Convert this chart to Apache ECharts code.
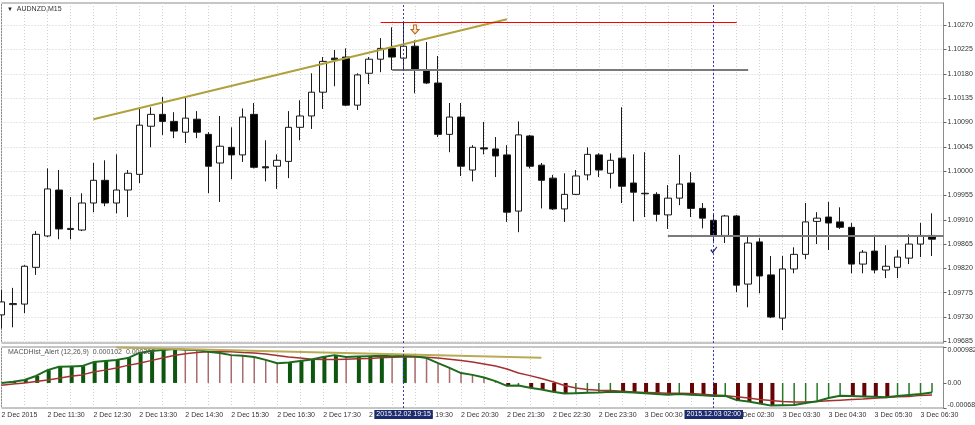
<!DOCTYPE html>
<html><head><meta charset="utf-8">
<script src="https://cdn.jsdelivr.net/npm/echarts@6/dist/echarts.min.js"></script>
<style>html,body{margin:0;padding:0;background:#fff}#c{width:975px;height:425px}</style>
</head><body><div id="c"></div>
<script>
const categories = ['2 Dec 2015','2 Dec 10:45','2 Dec 11:00','2 Dec 11:15','2 Dec 11:30','2 Dec 11:45','2 Dec 12:00','2 Dec 12:15','2 Dec 12:30','2 Dec 12:45',
'2 Dec 13:00','2 Dec 13:15','2 Dec 13:30','2 Dec 13:45','2 Dec 14:00','2 Dec 14:15','2 Dec 14:30','2 Dec 14:45','2 Dec 15:00','2 Dec 15:15',
'2 Dec 15:30','2 Dec 15:45','2 Dec 16:00','2 Dec 16:15','2 Dec 16:30','2 Dec 16:45','2 Dec 17:00','2 Dec 17:15','2 Dec 17:30','2 Dec 17:45',
'2 Dec 18:00','2 Dec 18:15','2 Dec 18:30','2 Dec 18:45','2 Dec 19:00','2 Dec 19:15','2 Dec 19:30','2 Dec 19:45','2 Dec 20:00','2 Dec 20:15',
'2 Dec 20:30','2 Dec 20:45','2 Dec 21:00','2 Dec 21:15','2 Dec 21:30','2 Dec 21:45','2 Dec 22:00','2 Dec 22:15','2 Dec 22:30','2 Dec 22:45',
'2 Dec 23:00','2 Dec 23:15','2 Dec 23:30','2 Dec 23:45','3 Dec 00:00','3 Dec 00:15','3 Dec 00:30','3 Dec 00:45','3 Dec 01:00','3 Dec 01:15',
'3 Dec 01:30','3 Dec 01:45','3 Dec 02:00','3 Dec 02:15','3 Dec 02:30','3 Dec 02:45','3 Dec 03:00','3 Dec 03:15','3 Dec 03:30','3 Dec 03:45',
'3 Dec 04:00','3 Dec 04:15','3 Dec 04:30','3 Dec 04:45','3 Dec 05:00','3 Dec 05:15','3 Dec 05:30','3 Dec 05:45','3 Dec 06:00','3 Dec 06:15',
'3 Dec 06:30','3 Dec 06:45','3 Dec 07:00'];

const opens = [1.09734,1.09753,1.09754,1.09822,1.09880,1.09965,1.09892,1.09891,1.09941,1.09983,
1.09941,1.09965,1.09994,1.10083,1.10105,1.10092,1.10072,1.10096,1.10068,1.10015,
1.10044,1.10030,1.10105,1.10008,1.10009,1.10018,1.10081,1.10102,1.10146,1.10209,
1.10211,1.10122,1.10181,1.10207,1.10227,1.10209,1.10231,1.10187,1.10163,1.10068,
1.10100,1.10002,1.10043,1.10041,1.10030,1.09926,1.10065,1.10011,1.09987,1.09930,
1.09957,1.09993,1.10030,1.09996,1.10024,1.09978,1.09959,1.09957,1.09919,1.09950,
1.09978,1.09931,1.09909,1.09881,1.09917,1.09791,1.09869,1.09808,1.09728,1.09819,
1.09846,1.09907,1.09915,1.09906,1.09896,1.09828,1.09852,1.09817,1.09822,1.09839,
1.09865,1.09881];
const closes = [1.09758,1.09755,1.09824,1.09883,1.09967,1.09893,1.09894,1.09941,1.09983,1.09941,
1.09965,1.09996,1.10085,1.10105,1.10092,1.10074,1.10098,1.10072,1.10009,1.10046,
1.10030,1.10100,1.10007,1.10006,1.10020,1.10081,1.10102,1.10146,1.10203,1.10206,
1.10122,1.10178,1.10207,1.10227,1.10211,1.10231,1.10187,1.10163,1.10068,1.10100,
1.10009,1.10044,1.10041,1.10028,1.09924,1.10067,1.10009,1.09983,1.09930,1.09957,
1.09991,1.10031,1.10002,1.10020,1.09972,1.09961,1.09958,1.09920,1.09950,1.09976,
1.09931,1.09913,1.09881,1.09917,1.09789,1.09867,1.09806,1.09730,1.09819,1.09846,
1.09906,1.09913,1.09904,1.09896,1.09828,1.09850,1.09817,1.09824,1.09841,1.09865,
1.09881,1.09874];
const lows = [1.09709,1.09711,1.09737,1.09808,1.09878,1.09874,1.09874,1.09889,1.09924,1.09935,
1.09922,1.09915,1.09978,1.10044,1.10067,1.10061,1.10052,1.10061,1.09959,1.09943,
1.09985,1.10017,1.10005,1.09981,1.09967,1.09987,1.10057,1.10078,1.10115,1.10157,
1.10120,1.10113,1.10161,1.10183,1.10187,1.10187,1.10144,1.10161,1.10063,1.10035,
1.09991,1.09981,1.10031,1.09989,1.09906,1.09887,1.10005,1.09931,1.09928,1.09906,
1.09956,1.09983,1.09989,1.09968,1.09941,1.09907,1.09915,1.09907,1.09893,1.09937,
1.09915,1.09894,1.09869,1.09867,1.09776,1.09748,1.09774,1.09728,1.09706,1.09811,
1.09837,1.09865,1.09854,1.09893,1.09811,1.09811,1.09811,1.09802,1.09802,1.09828,
1.09841,1.09843];
const highs = [1.09780,1.09784,1.09826,1.09889,1.10005,1.10002,1.09952,1.09959,1.10015,1.10020,
1.10031,1.10002,1.10118,1.10118,1.10137,1.10109,1.10137,1.10111,1.10072,1.10102,
1.10081,1.10116,1.10126,1.10057,1.10031,1.10111,1.10131,1.10181,1.10211,1.10224,
1.10227,1.10181,1.10211,1.10246,1.10266,1.10276,1.10242,1.10239,1.10213,1.10126,
1.10126,1.10048,1.10091,1.10063,1.10048,1.10092,1.10067,1.10015,1.09993,1.09996,
1.10002,1.10044,1.10033,1.10033,1.10118,1.10031,1.10035,1.09961,1.09974,1.10030,
1.09998,1.09941,1.09922,1.09919,1.09919,1.09878,1.09876,1.09843,1.09843,1.09859,
1.09941,1.09924,1.09943,1.09933,1.09904,1.09854,1.09881,1.09863,1.09854,1.09883,
1.09904,1.09922];

const macdValues = [0.00000,0.00003,0.00008,0.00019,0.00035,0.00044,0.00045,0.00046,0.00057,0.00060,
0.00063,0.00068,0.00082,0.00087,0.00090,0.00093,0.00091,0.00090,0.00085,0.00082,
0.00076,0.00074,0.00071,0.00063,0.00054,0.00056,0.00060,0.00064,0.00071,0.00076,
0.00071,0.00072,0.00073,0.00074,0.00073,0.00074,0.00073,0.00068,0.00054,0.00041,
0.00027,0.00022,0.00015,0.00005,-0.00008,-0.00007,-0.00013,-0.00018,-0.00024,-0.00029,
-0.00028,-0.00027,-0.00026,-0.00024,-0.00025,-0.00026,-0.00028,-0.00030,-0.00032,-0.00030,
-0.00032,-0.00034,-0.00036,-0.00035,-0.00047,-0.00051,-0.00056,-0.00062,-0.00061,-0.00060,
-0.00055,-0.00050,-0.00041,-0.00035,-0.00036,-0.00037,-0.00038,-0.00039,-0.00036,-0.00033,
-0.00030,-0.00026];
const signalValues = [-0.00006,-0.00003,0.00000,0.00004,0.00008,0.00013,0.00018,0.00022,0.00030,0.00035,
0.00041,0.00048,0.00054,0.00061,0.00068,0.00075,0.00080,0.00083,0.00085,0.00085,
0.00085,0.00083,0.00082,0.00079,0.00075,0.00071,0.00068,0.00065,0.00064,0.00064,
0.00065,0.00066,0.00067,0.00069,0.00070,0.00071,0.00071,0.00070,0.00068,0.00065,
0.00061,0.00057,0.00052,0.00046,0.00038,0.00027,0.00020,0.00012,0.00003,-0.00007,
-0.00014,-0.00018,-0.00020,-0.00021,-0.00023,-0.00025,-0.00026,-0.00027,-0.00028,-0.00028,
-0.00029,-0.00031,-0.00033,-0.00035,-0.00038,-0.00041,-0.00045,-0.00048,-0.00051,-0.00052,
-0.00052,-0.00051,-0.00049,-0.00047,-0.00045,-0.00044,-0.00042,-0.00040,-0.00038,-0.00037,
-0.00034,-0.00033];
// G = thick green (up), r = thin (down, above 0), M = thick maroon (down, below 0), g = thin green (up, below 0)
const histKinds = ['G','G','G','G','G','G','G','G','G','G',
'G','G','G','G','G','G','r','r','r','r',
'r','r','r','r','r','G','G','G','G','G',
'r','G','G','G','r','G','r','r','r','r',
'r','r','r','r','M','g','M','M','M','M',
'g','g','g','g','M','M','M','M','M','g',
'M','M','M','g','M','M','M','M','g','g',
'g','g','g','g','M','M','M','M','g','g',
'g','g'];

const priceTicks = [1.09685,1.09730,1.09775,1.09820,1.09865,1.09910,1.09955,1.10000,1.10045,1.10090,1.10135,1.10180,1.10225,1.10270];
const macdTicks = [-0.000685, 0, 0.000982];

// drawn objects: [category index, price]
const trendLine = [[8, 1.10096], [44, 1.10281]];
const redLevel = [[33, 1.10276], [64, 1.10276]];
const grayLevel1 = [[34, 1.10187], [65, 1.10187]];
const grayLevel2 = [[58, 1.09881], [82, 1.09881]];
const macdTrend = [[10, 0.00097], [47, 0.00069]];
const vLines = [35, 62];
const vLabels = ['2015.12.02 19:15', '2015.12.03 02:00'];
const arrowMark = [36, 1.10262];
const checkMark = [62, 1.09854];

const FONT = 'Liberation Sans';
const chart = echarts.init(document.getElementById('c'), null, {renderer: 'canvas'});
const candleData = opens.map((o, i) => [o, closes[i], lows[i], highs[i]]);
const thickColor = {G: '#0d560d', M: '#650404'};
const thinColor = {r: '#a86a6a', g: '#267826'};
const thickData = macdValues.map((v, i) => thickColor[histKinds[i]] ? {value: v, itemStyle: {color: thickColor[histKinds[i]]}} : '-');
const thinData = macdValues.map((v, i) => thinColor[histKinds[i]] ? {value: v, itemStyle: {color: thinColor[histKinds[i]]}} : '-');

const dotted = {color: '#cfcfcf', type: [1, 2], width: 1};
const vLineStyle = {color: '#3a3aae', type: [2, 2], width: 1};

const option = {
  animation: false,
  backgroundColor: '#ffffff',
  textStyle: {fontFamily: FONT},
  title: [
    {left: 2, top: 1, text: '{a|▼}  AUDNZD,M15', textStyle: {fontSize: 7, fontWeight: 'normal', color: '#333', fontFamily: FONT, rich: {a: {fontSize: 6, color: '#222'}}}},
    {left: 3, top: 344, text: 'MACDHist_Alert (12,26,9)  0.000102  0.000262', textStyle: {fontSize: 7, fontWeight: 'normal', color: '#555', fontFamily: FONT}}
  ],
  grid: [
    {left: 1.5, right: 31.5, top: 3, height: 340, show: true, borderColor: '#8c8c8c', borderWidth: 1, backgroundColor: '#fff', containLabel: false, outerBoundsMode: 'none'},
    {left: 1.5, right: 31.5, top: 347, height: 61, show: true, borderColor: '#8c8c8c', borderWidth: 1, backgroundColor: '#fff', containLabel: false, outerBoundsMode: 'none'}
  ],
  xAxis: [
    {type: 'category', gridIndex: 0, data: categories, boundaryGap: false,
     axisLine: {show: false}, axisTick: {show: false}, axisLabel: {show: false},
     splitLine: {show: true, interval: 1, lineStyle: dotted}},
    {type: 'category', gridIndex: 1, data: categories, boundaryGap: false,
     axisLine: {show: false}, axisTick: {show: false},
     axisLabel: {show: true, interval: 3, align: 'left', fontSize: 7, color: '#333', margin: 4, fontFamily: FONT, hideOverlap: false},
     splitLine: {show: true, interval: 1, lineStyle: dotted}}
  ],
  yAxis: [
    {type: 'value', gridIndex: 0, position: 'right', min: 1.09682, max: 1.10311, scale: true,
     axisLine: {show: true, lineStyle: {color: '#8c8c8c'}},
     axisTick: {show: true, length: 3, customValues: priceTicks, lineStyle: {color: '#666'}},
     axisLabel: {show: true, customValues: priceTicks, fontSize: 7, color: '#333', margin: 4, fontFamily: FONT, formatter: v => v.toFixed(5)},
     splitLine: {show: true, lineStyle: dotted}},
    {type: 'value', gridIndex: 1, position: 'right', min: -0.000685, max: 0.000982,
     axisLine: {show: true, lineStyle: {color: '#8c8c8c'}},
     axisTick: {show: true, length: 3, customValues: macdTicks, lineStyle: {color: '#666'}},
     axisLabel: {show: true, customValues: macdTicks, fontSize: 7, color: '#333', margin: 4, fontFamily: FONT,
       formatter: v => v === 0 ? '0.00' : (v > 0 ? '{t|' + v.toFixed(6) + '}' : '{b|' + v.toFixed(6) + '}'),
       rich: {t: {fontSize: 7, color: '#333', padding: [7, 0, 0, 0]}, b: {fontSize: 7, color: '#333', padding: [0, 0, 5, 0]}}},
     splitLine: {show: false}}
  ],
  series: [
    {
      type: 'candlestick', xAxisIndex: 0, yAxisIndex: 0, data: candleData, barWidth: 7,
      itemStyle: {color: '#ffffff', color0: '#000000', borderColor: '#1a1a1a', borderColor0: '#1a1a1a', borderWidth: 1},
      markLine: {
        silent: true, symbol: ['none', 'none'], label: {show: false},
        data: [
          [{coord: trendLine[0], lineStyle: {color: '#b0a13c', width: 2, type: 'solid'}}, {coord: trendLine[1]}],
          [{coord: redLevel[0], lineStyle: {color: '#ff0000', width: 1, type: 'solid'}}, {coord: redLevel[1]}],
          [{coord: grayLevel1[0], lineStyle: {color: '#7a7a7a', width: 2, type: 'solid'}}, {coord: grayLevel1[1]}],
          [{coord: grayLevel2[0], lineStyle: {color: '#7a7a7a', width: 2, type: 'solid'}}, {coord: grayLevel2[1]}],
          {xAxis: vLines[0], lineStyle: vLineStyle},
          {xAxis: vLines[1], lineStyle: vLineStyle}
        ]
      },
      markPoint: {
        silent: true, label: {show: false},
        data: [
          {coord: arrowMark, symbol: 'path://M3,0 L7,0 L7,5 L10,5 L5,10 L0,5 L3,5 Z', symbolSize: [8, 9], itemStyle: {color: '#fbe6c8', borderColor: '#b8671e', borderWidth: 1}},
          {coord: checkMark, symbol: 'path://M0,5 L2,4 L3.5,7 L9,0 L10,1 L3.5,10 Z', symbolSize: [7, 7], itemStyle: {color: '#1c2470'}}
        ]
      }
    },
    {type: 'bar', name: 'thick', xAxisIndex: 1, yAxisIndex: 1, data: thickData, barWidth: 4, barGap: '-100%', silent: true},
    {type: 'bar', name: 'thin', xAxisIndex: 1, yAxisIndex: 1, data: thinData, barWidth: 1.5, barGap: '-100%', silent: true},
    {type: 'line', name: 'signal', xAxisIndex: 1, yAxisIndex: 1, data: signalValues, symbol: 'none', lineStyle: {color: '#a53030', width: 1.5}, silent: true},
    {
      type: 'line', name: 'macd', xAxisIndex: 1, yAxisIndex: 1, data: macdValues, symbol: 'none',
      lineStyle: {color: '#1e6b1e', width: 2}, silent: true,
      markLine: {
        silent: true, symbol: ['none', 'none'],
        data: [
          [{coord: macdTrend[0], lineStyle: {color: '#b9ab55', width: 2, type: 'solid'}, label: {show: false}}, {coord: macdTrend[1]}],
          {xAxis: vLines[0], lineStyle: vLineStyle,
           label: {show: true, position: 'start', formatter: vLabels[0], color: '#fff', backgroundColor: '#1c2a6e', padding: [1, 2], fontSize: 7, fontFamily: FONT, distance: 2}},
          {xAxis: vLines[1], lineStyle: vLineStyle,
           label: {show: true, position: 'start', formatter: vLabels[1], color: '#fff', backgroundColor: '#1c2a6e', padding: [1, 2], fontSize: 7, fontFamily: FONT, distance: 2}}
        ]
      }
    }
  ]
};
chart.setOption(option);
</script>
</body></html>
